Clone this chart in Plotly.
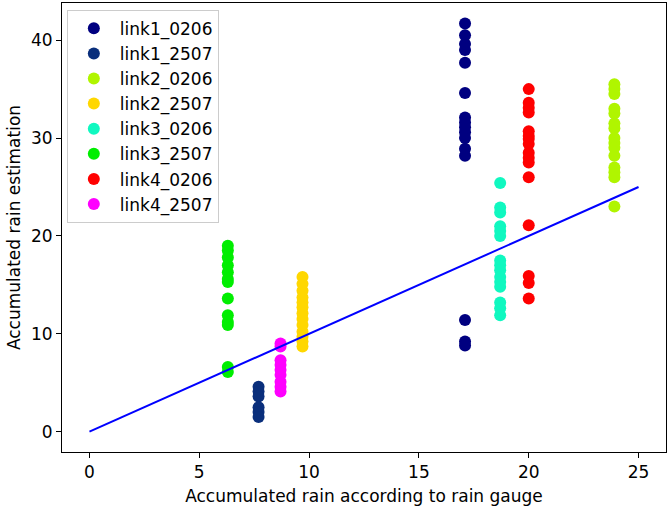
"""Scatter of accumulated rain estimation per link vs rain gauge."""
import plotly.graph_objects as go

# gauge value (x) of each link/day series
names = ['link1_0206', 'link1_2507', 'link2_0206', 'link2_2507',
         'link3_0206', 'link3_2507', 'link4_0206', 'link4_2507']
gauge = [17.1, 7.7, 23.9, 9.7, 18.7, 6.3, 20.0, 8.7]
colors = ['#000080', '#0a2f7c', '#b0f500', '#ffd700',
          '#10f8c0', '#00ee00', '#ff0000', '#ff00ff']

# estimated rain for each series
link1_0206 = [41.7, 40.5, 39.6, 39.0, 37.7, 34.6, 32.1, 31.6, 31.1, 30.6,
              30.0, 28.9, 28.2, 11.4, 9.2, 8.8]
link1_2507 = [4.6, 4.1, 3.6, 2.5, 2.0, 1.5]
link2_0206 = [35.5, 35.0, 34.5, 33.0, 32.5, 31.5, 31.0, 30.0, 29.5, 29.0,
              28.2, 27.0, 26.5, 26.0, 23.0]
link2_2507 = [15.8, 15.1, 14.4, 13.7, 13.2, 12.7, 12.1, 11.5, 10.9, 10.2,
              9.7, 9.2, 8.7]
link3_0206 = [25.4, 22.9, 22.4, 21.0, 20.5, 20.0, 17.5, 17.0, 16.5, 15.8,
              15.3, 14.8, 13.2, 12.6, 11.9]
link3_2507 = [19.0, 18.5, 17.8, 17.0, 16.3, 15.6, 15.3, 13.6, 11.9, 11.2,
              10.9, 6.6, 6.1]
link4_0206 = [35.0, 33.6, 33.1, 32.6, 30.7, 30.2, 29.9, 29.4, 28.5, 28.0,
              27.5, 26.0, 21.1, 15.9, 15.2, 13.6]
link4_2507 = [9.0, 8.7, 7.3, 6.8, 6.3, 5.8, 5.1, 4.6, 4.1]

series = [link1_0206, link1_2507, link2_0206, link2_2507,
          link3_0206, link3_2507, link4_0206, link4_2507]

# identity line
line_x = [0, 25]
line_y = [0, 25]

FONT = 'DejaVu Sans'

fig = go.Figure()
for name, gx, col, vals in zip(names, gauge, colors, series):
    fig.add_trace(go.Scatter(
        x=[gx] * len(vals), y=vals, mode='markers', name=name,
        legendgroup=name,
        marker=dict(size=12, color=col, line=dict(width=0)),
    ))

fig.add_trace(go.Scatter(
    x=line_x, y=line_y, mode='lines', showlegend=False,
    line=dict(color='#0000ff', width=2),
))

axis_style = dict(
    showline=True, linecolor='black', linewidth=1, mirror=True,
    ticks='outside', ticklen=5, tickcolor='black',
    showgrid=False, zeroline=False, automargin=False,
    tickfont=dict(family=FONT, size=17, color='black'),
)

fig.update_layout(
    width=671, height=507,
    margin=dict(l=62, r=5, t=3, b=55),
    plot_bgcolor='white', paper_bgcolor='white',
    font=dict(family=FONT, size=17, color='black'),
    xaxis=dict(range=[-1.25, 26.25], tickvals=[0, 5, 10, 15, 20, 25],
               title=dict(text='Accumulated rain according to rain gauge',
                          font=dict(size=17), standoff=8),
               **axis_style),
    yaxis=dict(range=[-2.08, 43.8], tickvals=[0, 10, 20, 30, 40],
               title=dict(text='Accumulated rain estimation',
                          font=dict(size=17), standoff=6),
               **axis_style),
    legend=dict(x=0.008, y=0.985, xanchor='left', yanchor='top',
                bgcolor='white', bordercolor='#cccccc', borderwidth=1,
                tracegroupgap=0, itemwidth=42,
                font=dict(family=FONT, size=17), itemsizing='constant'),
)

# drop the browser's default 8px body margin so the figure sits at 0,0
fig.write_html("out.html", config={'displayModeBar': False},
               post_script="document.body.style.margin='0';")
